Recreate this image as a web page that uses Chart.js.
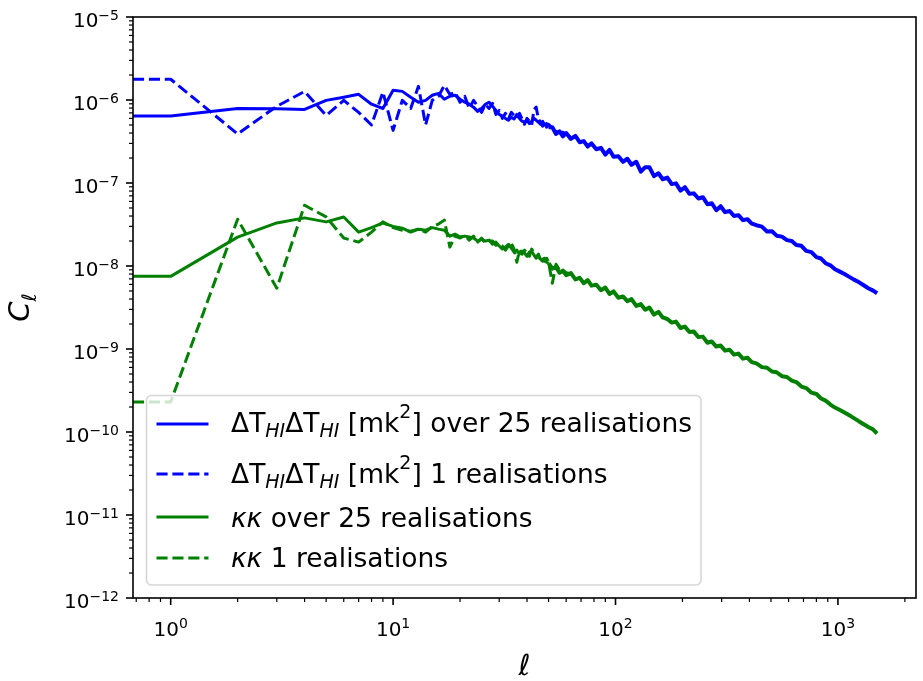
<!DOCTYPE html>
<html>
<head>
<meta charset="utf-8">
<script src="https://cdn.jsdelivr.net/npm/chart.js@4.4.1/dist/chart.umd.min.js"></script>
<style>
  html, body { margin: 0; padding: 0; background: #ffffff; }
  #wrap { width: 923px; height: 681px; }
</style>
</head>
<body>
<div id="wrap"><canvas id="cl" width="923" height="681"></canvas></div>
<script>
// Multipole moments (ell = 0 is the monopole, placed on the left edge of the log axis)
const ell = [0,1,2,3,4,5,6,7,8,9,10,11,12,13,14,15,16,17,18,19,20,21,22,23,24,25,26,27,28,29,30,
  31,32,33,34,35,36,37,38,39,40,41,42,43,44,45,46,47,48,49,50,
  52,54,56,58,60,63,66,69,72,75,78,82,86,90,94,98,103,108,113,118,124,130,136,142,149,
  156,163,171,179,187,196,205,215,225,236,247,259,271,284,297,311,326,341,357,374,392,
  410,430,455,480,505,530,560,590,620,650,685,720,760,800,840,880,925,970,
  1020,1070,1120,1180,1240,1300,1370,1440,1500];

// HI brightness temperature auto-spectrum [mK^2], mean of 25 realisations
const hiMean = [6.4e-7,6.4e-7,7.9e-7,7.85e-7,7.7e-7,9.9e-7,1.08e-6,1.17e-6,8.9e-7,7.9e-7,1.31e-6,
  1.27e-6,1.08e-6,9.4e-7,9.9e-7,1.14e-6,1.2e-6,1.02e-6,1.11e-6,1.14e-6,1.02e-6,
  9.4e-7,8.9e-7,8.2e-7,7.3e-7,7.9e-7,8.9e-7,9.4e-7,8.4e-7,7.5e-7,6.7e-7,
  6.4e-7,6.0e-7,5.7e-7,6.2e-7,5.9e-7,6.7e-7,6.0e-7,5.55e-7,5.4e-7,5.7e-7,
  5.2e-7,5.55e-7,6.0e-7,5.7e-7,5.4e-7,5.1e-7,5.55e-7,5.0e-7,5.2e-7,4.7e-7,
  4.7e-7,3.9e-7,4.2e-7,3.65e-7,4.0e-7,3.4e-7,3.7e-7,3.1e-7,3.2e-7,2.75e-7,3.0e-7,
  2.55e-7,2.65e-7,2.2e-7,2.5e-7,2.07e-7,2.1e-7,1.8e-7,1.96e-7,1.66e-7,1.8e-7,1.37e-7,1.55e-7,1.55e-7,1.21e-7,
  1.31e-7,1.11e-7,1.16e-7,9.7e-8,9.9e-8,8.1e-8,8.9e-8,7.4e-8,7.5e-8,6.5e-8,6.75e-8,5.55e-8,5.7e-8,
  4.7e-8,5.25e-8,4.45e-8,4.6e-8,4.0e-8,4.1e-8,3.57e-8,3.66e-8,
  3.24e-8,3.1e-8,2.98e-8,2.6e-8,2.63e-8,2.32e-8,2.26e-8,2.05e-8,2.0e-8,1.79e-8,1.75e-8,1.52e-8,1.47e-8,
  1.28e-8,1.23e-8,1.08e-8,1.02e-8,9.15e-9,
  8.55e-9,8.0e-9,7.45e-9,6.85e-9,6.4e-9,5.9e-9,5.4e-9,5.05e-9,4.7e-9];

// HI auto-spectrum, single realisation (ell = 0 ... 63)
const hiSingle = [1.78e-6,1.78e-6,3.9e-7,8.4e-7,1.27e-6,6.5e-7,9.9e-7,7.1e-7,5.0e-7,1.24e-6,4.3e-7,
  9.9e-7,7.9e-7,1.46e-6,5.0e-7,9.9e-7,1.11e-6,1.5e-6,1.17e-6,1.24e-6,9.4e-7,
  1.11e-6,7.9e-7,9.9e-7,8.4e-7,7.1e-7,8.9e-7,7.9e-7,9.1e-7,6.7e-7,7.5e-7,
  6.0e-7,6.9e-7,5.9e-7,7.1e-7,6.5e-7,6.0e-7,6.9e-7,5.9e-7,5.1e-7,6.0e-7,
  5.55e-7,5.0e-7,7.7e-7,8.2e-7,5.9e-7,5.4e-7,4.85e-7,5.55e-7,4.7e-7,5.1e-7,
  4.6e-7,4.2e-7,4.0e-7,4.1e-7,3.8e-7,3.55e-7];

// Convergence auto-spectrum, mean of 25 realisations
const kkMean = [7.5e-9,7.5e-9,2.23e-8,3.3e-8,3.8e-8,3.4e-8,3.9e-8,2.56e-8,2.9e-8,3.3e-8,3.0e-8,
  2.86e-8,2.56e-8,2.78e-8,2.7e-8,2.9e-8,2.78e-8,2.7e-8,2.29e-8,2.42e-8,2.23e-8,
  2.29e-8,2.23e-8,2.17e-8,2.0e-8,2.1e-8,2.0e-8,2.05e-8,1.83e-8,1.94e-8,1.74e-8,
  1.6e-8,1.69e-8,1.83e-8,1.64e-8,1.47e-8,1.55e-8,1.39e-8,1.51e-8,1.43e-8,1.31e-8,
  1.47e-8,1.51e-8,1.35e-8,1.24e-8,1.31e-8,1.21e-8,1.14e-8,1.24e-8,1.11e-8,1.08e-8,
  9.3e-9,9.7e-9,8.3e-9,8.8e-9,7.75e-9,8.2e-9,6.9e-9,7.2e-9,6.2e-9,6.75e-9,5.8e-9,
  5.95e-9,5.1e-9,5.5e-9,4.6e-9,4.95e-9,4.15e-9,4.3e-9,3.77e-9,4.0e-9,3.3e-9,3.47e-9,2.98e-9,3.15e-9,2.6e-9,
  2.8e-9,2.4e-9,2.3e-9,2.08e-9,2.14e-9,1.79e-9,1.86e-9,1.6e-9,1.62e-9,1.39e-9,1.41e-9,1.19e-9,1.23e-9,
  1.07e-9,1.1e-9,9.56e-10,9.8e-10,8.55e-10,8.8e-10,7.65e-10,7.85e-10,
  6.95e-10,6.7e-10,6.05e-10,5.95e-10,5.35e-10,5.25e-10,4.7e-10,4.6e-10,4.17e-10,4.0e-10,3.53e-10,3.38e-10,
  2.98e-10,2.87e-10,2.53e-10,2.39e-10,2.14e-10,1.97e-10,
  1.84e-10,1.72e-10,1.6e-10,1.47e-10,1.35e-10,1.25e-10,1.15e-10,1.07e-10,9.6e-11];

// Convergence auto-spectrum, single realisation (ell = 0 ... 63)
const kkSingle = [2.3e-10,2.3e-10,3.66e-8,5.4e-9,5.4e-8,3.9e-8,2.17e-8,1.94e-8,2.56e-8,3.4e-8,2.9e-8,
  2.7e-8,2.63e-8,2.78e-8,2.56e-8,3.0e-8,3.2e-8,3.57e-8,1.69e-8,2.29e-8,2.17e-8,
  2.35e-8,2.05e-8,2.29e-8,1.94e-8,2.17e-8,1.88e-8,2.0e-8,2.0e-8,1.78e-8,1.83e-8,
  1.74e-8,1.55e-8,1.74e-8,1.88e-8,1.6e-8,1.11e-8,1.55e-8,1.39e-8,1.55e-8,1.43e-8,
  1.31e-8,1.6e-8,1.43e-8,1.28e-8,1.39e-8,1.18e-8,1.28e-8,1.14e-8,1.24e-8,1.11e-8,
  6.2e-9,1.05e-8,9.0e-9,8.9e-9,8.3e-9,8.0e-9];

// Decade exponents carrying tick labels
const xTickExp = [0, 1, 2, 3];
const yTickExp = [-12, -11, -10, -9, -8, -7, -6, -5];

const X_MIN = 0.677, X_MAX = 2244;
const Y_MIN = 1e-12, Y_MAX = 1e-5;
const FONT = '"DejaVu Sans"';
const BLUE = '#0000ff', GREEN = '#008000';
const DASH = [11.1, 4.8];

const pts = (ys) => ys.map((v, i) => ({ x: ell[i], y: v }));
const wide = { borderWidth: c => (c.p0.parsed.x >= 50 ? 4 : 3) };

// draws a run of text pieces (normal, subscript, superscript, italic) left to right
function richText(ctx, parts, x, y, base) {
  let cx = x;
  for (const p of parts) {
    const size = p.sub || p.sup ? Math.round(base * 0.7) : base;
    ctx.font = (p.it || p.sub ? 'italic ' : '') + size + 'px ' + FONT;
    const dy = p.sub ? base * 0.2 : (p.sup ? -base * 0.53 : 0);
    ctx.fillText(p.t, cx, y + dy);
    cx += ctx.measureText(p.t).width;
  }
  return cx;
}

const legendItems = [
  { color: BLUE, dash: [], parts: [{t:'ΔT'},{t:'HI',sub:1},{t:'ΔT'},{t:'HI',sub:1},{t:' [mk'},{t:'2',sup:1},{t:'] over 25 realisations'}] },
  { color: BLUE, dash: DASH, parts: [{t:'ΔT'},{t:'HI',sub:1},{t:'ΔT'},{t:'HI',sub:1},{t:' [mk'},{t:'2',sup:1},{t:'] 1 realisations'}] },
  { color: GREEN, dash: [], parts: [{t:'κκ',it:1},{t:' over 25 realisations'}] },
  { color: GREEN, dash: DASH, parts: [{t:'κκ',it:1},{t:' 1 realisations'}] }
];

const decor = {
  id: 'decor',
  afterDatasetsDraw(chart) {
    const { ctx, chartArea: a, scales: { x, y } } = chart;
    ctx.save();
    ctx.fillStyle = '#000';
    ctx.strokeStyle = '#000';

    // minor and major ticks, outward
    const tick = (x0, y0, x1, y1, w) => { ctx.lineWidth = w; ctx.beginPath(); ctx.moveTo(x0, y0); ctx.lineTo(x1, y1); ctx.stroke(); };
    for (let e = -1; e <= 3; e++) {
      for (let m = 1; m <= 9; m++) {
        const v = m * Math.pow(10, e);
        if (v < X_MIN || v > X_MAX) continue;
        const px = x.getPixelForValue(v);
        if (m === 1) tick(px, a.bottom, px, a.bottom + 7, 1.6);
        else tick(px, a.bottom, px, a.bottom + 4, 1.2);
      }
    }
    for (let e = -12; e <= -5; e++) {
      for (let m = 1; m <= 9; m++) {
        const v = m * Math.pow(10, e);
        if (v < Y_MIN * 0.999 || v > Y_MAX * 1.001) continue;
        const py = y.getPixelForValue(v);
        if (m === 1) tick(a.left, py, a.left - 7, py, 1.6);
        else tick(a.left - 4, py, a.left, py, 1.2);
      }
    }

    // spines
    ctx.lineWidth = 1.6;
    ctx.strokeRect(a.left, a.top, a.right - a.left, a.bottom - a.top);

    // tick labels 10^n
    ctx.textBaseline = 'alphabetic';
    ctx.textAlign = 'left';
    for (const e of yTickExp) {
      const py = y.getPixelForValue(Math.pow(10, e));
      const sup = (e < 0 ? '\u2212' : '') + Math.abs(e);
      ctx.font = '14px ' + FONT;
      const ws = ctx.measureText(sup).width;
      ctx.font = '20px ' + FONT;
      const wm = ctx.measureText('10').width;
      const right = a.left - 14;
      ctx.fillText('10', right - ws - wm, py + 10);
      ctx.font = '14px ' + FONT;
      ctx.fillText(sup, right - ws, py + 3);
    }
    for (const e of xTickExp) {
      const px = x.getPixelForValue(Math.pow(10, e));
      const sup = String(e);
      ctx.font = '14px ' + FONT;
      const ws = ctx.measureText(sup).width;
      ctx.font = '20px ' + FONT;
      const wm = ctx.measureText('10').width;
      const left = px - (wm + ws) / 2;
      ctx.fillText('10', left, a.bottom + 38);
      ctx.font = '14px ' + FONT;
      ctx.fillText(sup, left + wm, a.bottom + 30);
    }

    // axis titles
    ctx.font = 'italic 29px ' + FONT;
    const wl = ctx.measureText('\u2113').width;
    ctx.fillText('\u2113', (a.left + a.right) / 2 - wl / 2, 675);

    ctx.save();
    ctx.translate(29, (a.top + a.bottom) / 2);
    ctx.rotate(-Math.PI / 2);
    ctx.font = 'italic 29px ' + FONT;
    const wc = ctx.measureText('C').width;
    ctx.font = 'italic 20px ' + FONT;
    const ws2 = ctx.measureText('\u2113').width;
    const start = -(wc + ws2) / 2;
    ctx.font = 'italic 29px ' + FONT;
    ctx.fillText('C', start, 0);
    ctx.font = 'italic 20px ' + FONT;
    ctx.fillText('\u2113', start + wc, 7);
    ctx.restore();

    // legend
    const bx = 146.5, by = 395.5, bw = 554.5, bh = 189.5, r = 5;
    ctx.beginPath();
    ctx.roundRect(bx, by, bw, bh, r);
    ctx.fillStyle = 'rgba(255,255,255,0.8)';
    ctx.fill();
    ctx.lineWidth = 1.6;
    ctx.strokeStyle = 'rgba(204,204,204,0.8)';
    ctx.stroke();

    const lineY = [424, 474, 517, 558];
    const textY = [432, 483, 527, 567];
    legendItems.forEach((it, i) => {
      ctx.strokeStyle = it.color;
      ctx.lineWidth = 3;
      ctx.setLineDash(it.dash);
      ctx.lineCap = 'butt';
      ctx.beginPath();
      ctx.moveTo(156.5, lineY[i]);
      ctx.lineTo(208.5, lineY[i]);
      ctx.stroke();
      ctx.setLineDash([]);
      ctx.fillStyle = '#000';
      richText(ctx, it.parts, 231, textY[i], 26.5);
    });
    ctx.restore();
  }
};

new Chart(document.getElementById('cl'), {
  type: 'line',
  data: {
    datasets: [
      { label: 'HI mean', data: pts(hiMean), borderColor: BLUE, borderWidth: 3, segment: wide, order: 4 },
      { label: 'HI single', data: pts(hiSingle), borderColor: BLUE, borderWidth: 3, borderDash: DASH, order: 3 },
      { label: 'kk mean', data: pts(kkMean), borderColor: GREEN, borderWidth: 3, segment: wide, order: 2 },
      { label: 'kk single', data: pts(kkSingle), borderColor: GREEN, borderWidth: 3, borderDash: DASH, order: 1 }
    ].map(d => Object.assign({ pointRadius: 0, tension: 0, fill: false, borderJoinStyle: 'round', borderCapStyle: 'butt', spanGaps: true }, d))
  },
  options: {
    responsive: false,
    animation: false,
    events: [],
    layout: { padding: { top: 17, right: 7, left: 0, bottom: 0 } },
    plugins: { legend: { display: false }, tooltip: { enabled: false } },
    scales: {
      x: {
        type: 'logarithmic', min: X_MIN, max: X_MAX, bounds: 'data',
        grid: { display: false }, border: { display: false }, ticks: { display: false },
        afterFit(s) { s.height = 83; }
      },
      y: {
        type: 'logarithmic', min: Y_MIN, max: Y_MAX, bounds: 'data',
        grid: { display: false }, border: { display: false }, ticks: { display: false },
        afterFit(s) { s.width = 133; }
      }
    }
  },
  plugins: [decor]
});
</script>
</body>
</html>
